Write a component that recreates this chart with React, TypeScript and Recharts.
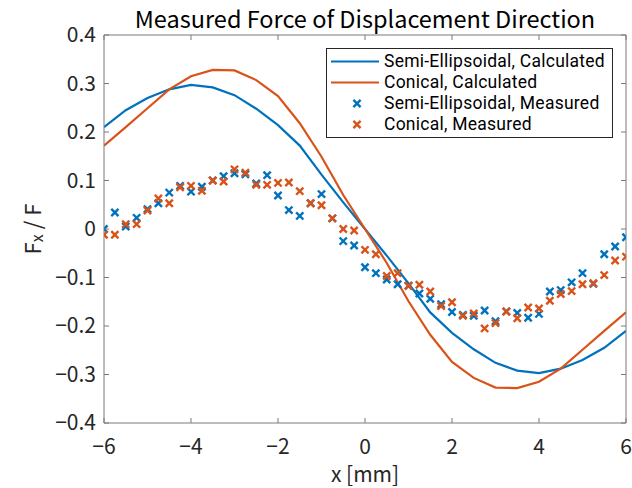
import React from 'react';
import { ComposedChart, Line, Scatter, XAxis, YAxis, Legend } from 'recharts';

// calculated curves, every 0.5 mm
const xCalc = [-6, -5.5, -5, -4.5, -4, -3.5, -3, -2.5, -2, -1.5, -1, -0.5, 0, 0.5, 1, 1.5, 2, 2.5, 3, 3.5, 4, 4.5, 5, 5.5, 6];
const semiCalc = [0.21, 0.245, 0.27, 0.288, 0.297, 0.292, 0.276, 0.248, 0.214, 0.172, 0.112, 0.055, 0, -0.055, -0.112, -0.172, -0.214, -0.248, -0.276, -0.292, -0.297, -0.288, -0.27, -0.245, -0.21];
const conCalc = [0.172, 0.21, 0.249, 0.288, 0.315, 0.328, 0.327, 0.307, 0.274, 0.218, 0.149, 0.07, 0, -0.07, -0.149, -0.218, -0.274, -0.307, -0.327, -0.328, -0.315, -0.288, -0.249, -0.21, -0.172];

// measured points, every 0.25 mm
const xMeas = [-6, -5.75, -5.5, -5.25, -5, -4.75, -4.5, -4.25, -4, -3.75, -3.5, -3.25, -3, -2.75, -2.5, -2.25, -2, -1.75, -1.5, -1.25, -1, -0.75, -0.5, -0.25, 0, 0.25, 0.5, 0.75, 1, 1.25, 1.5, 1.75, 2, 2.25, 2.5, 2.75, 3, 3.25, 3.5, 3.75, 4, 4.25, 4.5, 4.75, 5, 5.25, 5.5, 5.75, 6];
const semiMeas = [0, 0.034, 0.005, 0.023, 0.041, 0.053, 0.075, 0.089, 0.077, 0.087, 0.1, 0.109, 0.115, 0.113, 0.094, 0.111, 0.069, 0.039, 0.027, 0.053, 0.072, 0.022, -0.025, -0.034, -0.079, -0.091, -0.104, -0.114, -0.117, -0.133, -0.144, -0.155, -0.171, -0.177, -0.179, -0.168, -0.19, -0.17, -0.173, -0.183, -0.175, -0.129, -0.126, -0.11, -0.091, -0.113, -0.052, -0.036, -0.017];
const conMeas = [-0.012, -0.012, 0.01, 0.01, 0.038, 0.063, 0.053, 0.086, 0.089, 0.079, 0.1, 0.098, 0.123, 0.116, 0.091, 0.091, 0.095, 0.096, 0.078, 0.053, 0.049, 0.022, 0, -0.003, -0.043, -0.052, -0.097, -0.091, -0.117, -0.115, -0.129, -0.159, -0.151, -0.179, -0.174, -0.205, -0.194, -0.17, -0.184, -0.162, -0.164, -0.148, -0.134, -0.128, -0.114, -0.112, -0.095, -0.065, -0.057];

const xTicks = [-6, -4, -2, 0, 2, 4, 6];
const yTicks = [-0.4, -0.3, -0.2, -0.1, 0, 0.1, 0.2, 0.3, 0.4];

const BLUE = '#0072BD';
const ORANGE = '#D95319';
const AXIS = '#7a7a7a';
const FONT = '"Noto Sans CJK JP", "Noto Sans", sans-serif';
const LEGEND_FONT = 'Roboto, "Noto Sans", sans-serif';

const W = 632;
const H = 488;
const MARGIN = { top: 35, right: 6, bottom: 25, left: 24 };
const X_AXIS_H = 40;
const Y_AXIS_W = 80;
const PLOT_W = W - MARGIN.left - Y_AXIS_W - MARGIN.right;
const PLOT_H = H - MARGIN.top - MARGIN.bottom - X_AXIS_H;
const X_MARGIN = 16;
const Y_MARGIN = 8;
const TICK = 5;

const semiCalcData = xCalc.map((x, i) => ({ x, y: semiCalc[i] }));
const conCalcData = xCalc.map((x, i) => ({ x, y: conCalc[i] }));
const semiMeasData = xMeas.map((x, i) => ({ x, y: semiMeas[i] }));
const conMeasData = xMeas.map((x, i) => ({ x, y: conMeas[i] }));

const minus = (s: string) => s.replace('-', '\u2212');
const fmtX = (v: number) => minus(String(v));
const fmtY = (v: number) => (v === 0 ? '0' : minus(v.toFixed(1)));

const tickFont = { fontFamily: FONT, fontSize: 21, fill: '#262626' };

// label plus inward tick marks on bottom and top edges
const XTick = ({ x, y, payload }: any) => {
  const axisY = y - X_MARGIN;
  return (
    <g>
      <line x1={x} x2={x} y1={axisY} y2={axisY - TICK} stroke={AXIS} />
      <line x1={x} x2={x} y1={axisY - PLOT_H} y2={axisY - PLOT_H + TICK} stroke={AXIS} />
      <text x={x} y={y} dy="0.71em" textAnchor="middle" {...tickFont}>
        {fmtX(payload.value)}
      </text>
    </g>
  );
};

// label plus inward tick marks on left and right edges
const YTick = ({ x, y, payload }: any) => {
  const axisX = x + Y_MARGIN;
  return (
    <g>
      <line x1={axisX} x2={axisX + TICK} y1={y} y2={y} stroke={AXIS} />
      <line x1={axisX + PLOT_W} x2={axisX + PLOT_W - TICK} y1={y} y2={y} stroke={AXIS} />
      <text x={x} y={y} dy="0.355em" textAnchor="end" {...tickFont}>
        {fmtY(payload.value)}
      </text>
    </g>
  );
};

const Cross = ({ cx, cy, color }: any) => {
  const r = 3.6;
  return (
    <g stroke={color} strokeWidth={2.4} strokeLinecap="butt">
      <line x1={cx - r} y1={cy - r} x2={cx + r} y2={cy + r} />
      <line x1={cx - r} y1={cy + r} x2={cx + r} y2={cy - r} />
    </g>
  );
};

const legendItems = [
  { label: 'Semi-Ellipsoidal, Calculated', color: BLUE, kind: 'line' },
  { label: 'Conical, Calculated', color: ORANGE, kind: 'line' },
  { label: 'Semi-Ellipsoidal, Measured', color: BLUE, kind: 'mark' },
  { label: 'Conical, Measured', color: ORANGE, kind: 'mark' },
];

const LegendBox = () => (
  <div
    style={{
      border: '1px solid #262626',
      background: '#fff',
      width: 287,
      boxSizing: 'border-box',
      padding: '2px 0',
      fontFamily: LEGEND_FONT,
      fontSize: 17.5,
      letterSpacing: 0.25,
      color: '#000',
    }}
  >
    {legendItems.map((it) => (
      <div key={it.label} style={{ display: 'flex', alignItems: 'center', height: 21 }}>
        <svg width={57} height={21} style={{ flex: 'none' }}>
          {it.kind === 'line' ? (
            <line x1={4} x2={52} y1={10.5} y2={10.5} stroke={it.color} strokeWidth={2} />
          ) : (
            <Cross cx={30} cy={10.5} color={it.color} />
          )}
        </svg>
        <span style={{ whiteSpace: 'nowrap', lineHeight: '19px' }}>{it.label}</span>
      </div>
    ))}
  </div>
);

const YLabel = ({ viewBox }: any) => {
  const cy = viewBox.y + viewBox.height / 2;
  const cx = 31;
  return (
    <text
      x={cx}
      y={cy}
      transform={`rotate(-90, ${cx}, ${cy})`}
      textAnchor="middle"
      dominantBaseline="central"
      fontFamily={FONT}
      fontSize={22}
      fill="#262626"
    >
      <tspan>F</tspan>
      <tspan fontSize={16} dy={5}>x</tspan>
      <tspan dy={-5}> / F</tspan>
    </text>
  );
};

export default function App() {
  return (
    <div style={{ position: 'absolute', left: 0, top: 0, width: W, height: H, background: '#fff' }}>
      <ComposedChart width={W} height={H} margin={MARGIN}>
        <text x={MARGIN.left + Y_AXIS_W + PLOT_W / 2} y={28} textAnchor="middle" fontFamily={FONT} fontSize={23.5} fill="#000">
          Measured Force of Displacement Direction
        </text>
        <XAxis
          type="number"
          dataKey="x"
          domain={[-6, 6]}
          ticks={xTicks}
          allowDataOverflow
          tickLine={false}
          tickSize={0}
          tickMargin={X_MARGIN}
          height={X_AXIS_H}
          axisLine={{ stroke: AXIS }}
          tick={XTick}
          label={{ value: 'x [mm]', position: 'insideBottom', offset: -19, style: { fontFamily: FONT, fontSize: 21, fill: '#262626' } }}
        />
        <YAxis
          type="number"
          domain={[-0.4, 0.4]}
          ticks={yTicks}
          allowDataOverflow
          tickLine={false}
          tickSize={0}
          tickMargin={Y_MARGIN}
          width={Y_AXIS_W}
          axisLine={{ stroke: AXIS }}
          tick={YTick}
          label={{ content: YLabel }}
        />
        {/* top and right edges of the box */}
        <XAxis xAxisId="t" type="number" domain={[-6, 6]} ticks={xTicks} allowDataOverflow mirror orientation="top" tick={false} tickLine={false} axisLine={{ stroke: AXIS }} />
        <YAxis yAxisId="r" type="number" domain={[-0.4, 0.4]} ticks={yTicks} allowDataOverflow mirror orientation="right" tick={false} tickLine={false} axisLine={{ stroke: AXIS }} />

        <Line data={semiCalcData} dataKey="y" stroke={BLUE} strokeWidth={2.2} dot={false} activeDot={false} isAnimationActive={false} type="linear" />
        <Line data={conCalcData} dataKey="y" stroke={ORANGE} strokeWidth={2.2} dot={false} activeDot={false} isAnimationActive={false} type="linear" />
        <Scatter data={semiMeasData} dataKey="y" isAnimationActive={false} shape={(p: any) => <Cross cx={p.cx} cy={p.cy} color={BLUE} />} />
        <Scatter data={conMeasData} dataKey="y" isAnimationActive={false} shape={(p: any) => <Cross cx={p.cx} cy={p.cy} color={ORANGE} />} />

        <Legend
          layout="vertical"
          align="center"
          verticalAlign="middle"
          wrapperStyle={{ left: 326, top: 48, width: 287 }}
          content={LegendBox}
        />
      </ComposedChart>
    </div>
  );
}
